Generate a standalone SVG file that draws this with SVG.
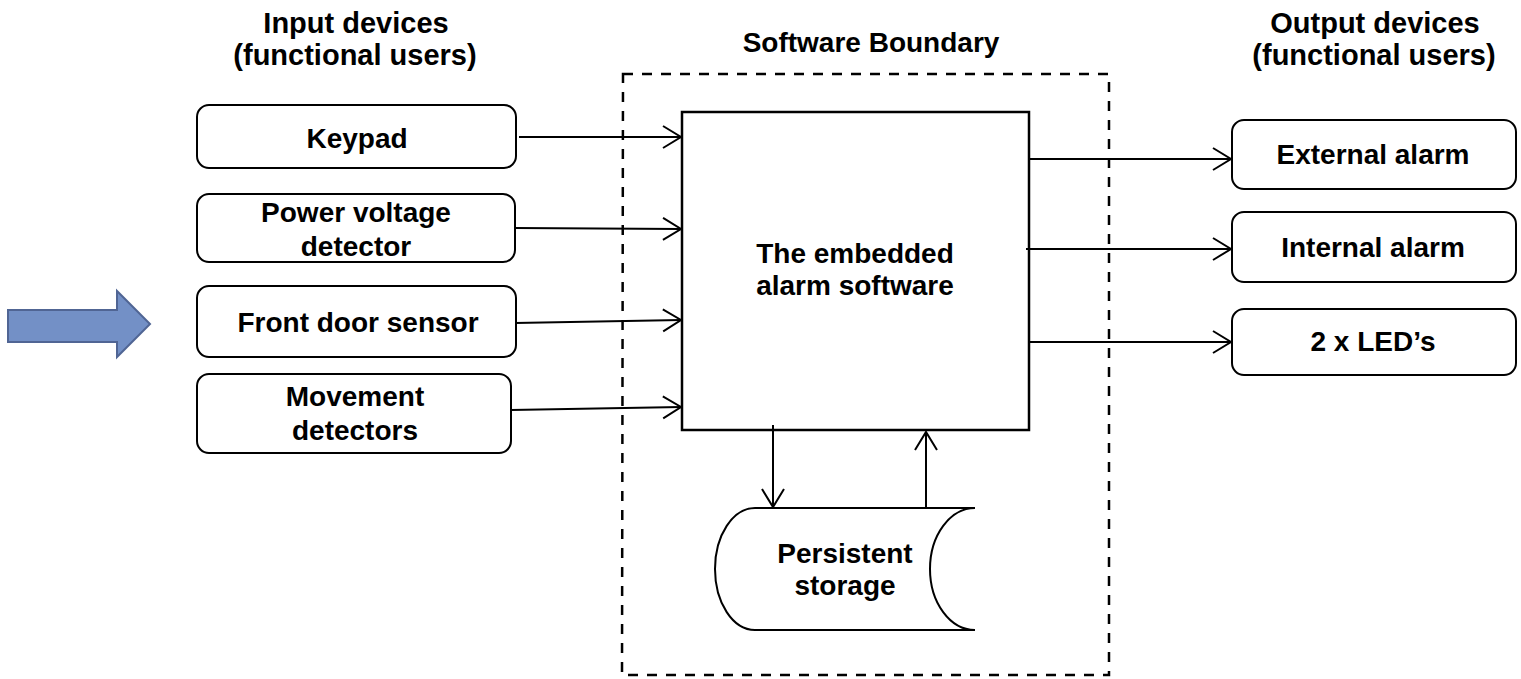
<svg xmlns="http://www.w3.org/2000/svg" width="1521" height="679" viewBox="0 0 1521 679">
  <style>
    text { font-family: "Liberation Sans", Arial, sans-serif; font-weight: bold; font-size: 28px; fill: #000; text-anchor: middle; }
    text.col { font-size: 29px; }
    .box { fill: #fff; stroke: #000; stroke-width: 2; }
    .wire { fill: none; stroke: #000; stroke-width: 2; marker-end: url(#open); }
  </style>
  <defs>
    <marker id="open" markerUnits="userSpaceOnUse" markerWidth="24" markerHeight="26" refX="20" refY="12" orient="auto">
      <path d="M2,1 L20,12 L2,23" fill="none" stroke="#000" stroke-width="2"/>
    </marker>
  </defs>
  <rect width="1521" height="679" fill="#fff"/>

  <!-- block arrow on the left -->
  <g id="pointer">
    <polygon points="8,310 117,310 117,291 150,324 117,357 117,342 8,342" fill="#7390c6" stroke="#506594" stroke-width="2"/>
  </g>

  <!-- column headings -->
  <g id="headings">
    <text class="col" x="356" y="33">Input devices</text>
    <text class="col" x="355" y="65">(functional users)</text>
    <text x="871" y="52">Software Boundary</text>
    <text class="col" x="1375" y="33">Output devices</text>
    <text class="col" x="1374" y="65">(functional users)</text>
  </g>

  <!-- software boundary -->
  <g id="boundary">
    <path d="M623,74 L1109,74 L1109,675 L622,675 Z" fill="none" stroke="#000" stroke-width="2.5" stroke-dasharray="10,9"/>
  </g>

  <!-- input devices -->
  <g id="keypad">
    <rect class="box" x="197" y="105" width="319" height="63" rx="12"/>
    <text x="357" y="148">Keypad</text>
  </g>
  <g id="power-voltage-detector">
    <rect class="box" x="197" y="194" width="318" height="68" rx="12"/>
    <text x="356" y="222">Power voltage</text>
    <text x="356" y="256">detector</text>
  </g>
  <g id="front-door-sensor">
    <rect class="box" x="197" y="286" width="319" height="71" rx="12"/>
    <text x="358" y="332">Front door sensor</text>
  </g>
  <g id="movement-detectors">
    <rect class="box" x="197" y="374" width="314" height="79" rx="12"/>
    <text x="355" y="406">Movement</text>
    <text x="355" y="440">detectors</text>
  </g>

  <!-- embedded software -->
  <g id="alarm-software">
    <rect x="682" y="112" width="347" height="318" fill="#fff" stroke="#000" stroke-width="2.5"/>
    <text x="855" y="263">The embedded</text>
    <text x="855" y="295">alarm software</text>
  </g>

  <!-- persistent storage -->
  <g id="persistent-storage">
    <path d="M755,508 L975,508 A45,61 0 0 0 975,630 L755,630 A40,61 0 0 1 755,508 Z" fill="#fff" stroke="#000" stroke-width="2"/>
    <text x="845" y="563">Persistent</text>
    <text x="845" y="595">storage</text>
  </g>

  <!-- output devices -->
  <g id="external-alarm">
    <rect class="box" x="1232" y="120" width="284" height="69" rx="12"/>
    <text x="1373" y="164">External alarm</text>
  </g>
  <g id="internal-alarm">
    <rect class="box" x="1232" y="212" width="284" height="70" rx="12"/>
    <text x="1373" y="257">Internal alarm</text>
  </g>
  <g id="leds">
    <rect class="box" x="1232" y="309" width="284" height="66" rx="12"/>
    <text x="1373" y="351">2 x LED’s</text>
  </g>

  <!-- connectors -->
  <g id="connectors">
    <line class="wire" x1="519" y1="137" x2="681" y2="137"/>
    <line class="wire" x1="515" y1="228" x2="681" y2="229"/>
    <line class="wire" x1="515" y1="323" x2="681" y2="320"/>
    <line class="wire" x1="511" y1="410" x2="681" y2="407"/>
    <line class="wire" x1="1030" y1="159" x2="1231" y2="159"/>
    <line class="wire" x1="1026" y1="249" x2="1231" y2="249"/>
    <line class="wire" x1="1030" y1="342" x2="1231" y2="342"/>
    <line class="wire" x1="773" y1="425" x2="773" y2="507"/>
    <line class="wire" x1="926" y1="508" x2="926" y2="432"/>
  </g>
</svg>
